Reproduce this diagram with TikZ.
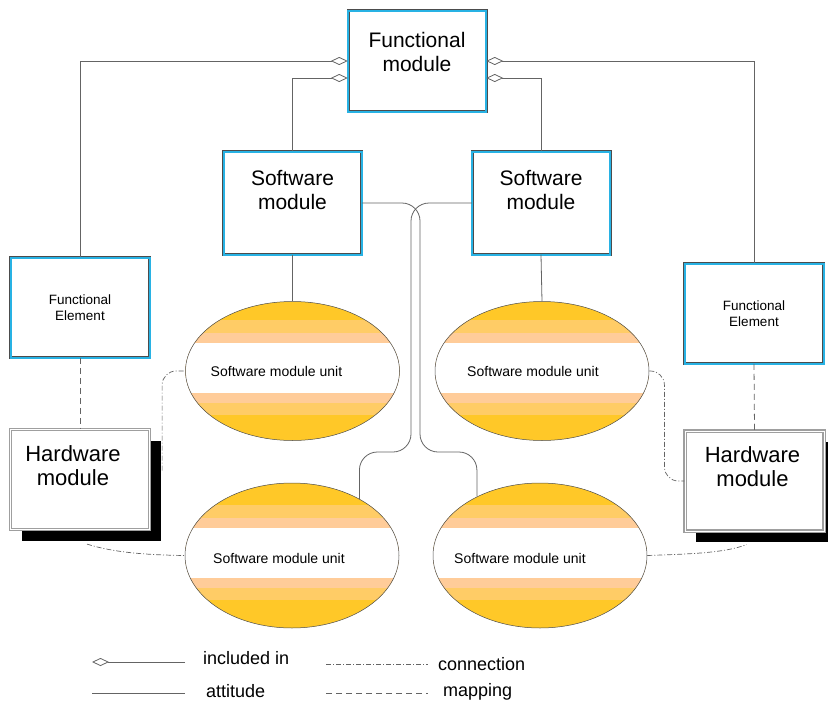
\documentclass[tikz,border=0pt]{standalone}
\usepackage{fontspec}
\setmainfont{Liberation Sans}
\usepackage{tikz}
\usetikzlibrary{positioning,arrows.meta,shapes.geometric,shadows}

\definecolor{frameblue}{RGB}{40,178,228}
\definecolor{linegray}{RGB}{100,100,100}
\definecolor{unitgold}{RGB}{255,200,40}
\definecolor{unitlight}{RGB}{255,204,102}
\definecolor{unitpeach}{RGB}{255,204,153}

\tikzset{
  modbox/.style={draw=gray!60!black, double=frameblue, double distance=2pt, line width=0.5pt,
    fill=white, minimum width=138pt, minimum height=101pt, inner sep=0pt},
  hwbox/.style={draw=gray!75, double=white, double distance=0.8pt, line width=1.2pt,
    fill=white, minimum width=139pt, minimum height=100pt, inner sep=0pt,
    drop shadow={shadow xshift=11pt, shadow yshift=-11pt, fill=black, opacity=1}},
  unit/.style={ellipse, draw=gray!60!black, line width=0.5pt, minimum width=214pt, inner sep=0pt,
    path picture={
      \begin{scope}[shift={(path picture bounding box.center)}]
        \fill[unitgold] (-120,-80) rectangle (120,80);
        \fill[unitlight] (-120,-51) rectangle (120,44);
        \fill[unitpeach] (-120,-38) rectangle (120,32);
        \fill[white] (-120,-28) rectangle (120,22);
      \end{scope}
    }},
  bigtext/.style={inner sep=0pt, align=center, font=\fontsize{21}{24}\selectfont},
  hwtext/.style={inner sep=0pt, align=center, font=\fontsize{22}{24}\selectfont},
  fetext/.style={align=center, font=\fontsize{13.5}{16}\selectfont},
  unittext/.style={inner sep=0pt, font=\fontsize{14}{16}\selectfont},
  keytext/.style={inner sep=0pt, anchor=west, font=\fontsize{18}{20}\selectfont},
  attit/.style={draw=linegray, line width=0.8pt},
  incl/.style={attit, -{Diamond[open, length=17pt, width=8pt]}},
  conn/.style={draw=linegray, line width=0.7pt, dash pattern=on 5pt off 2pt on 1pt off 2pt},
  mapp/.style={draw=linegray, line width=0.8pt, dash pattern=on 6pt off 4pt}
}

\begin{document}
\begin{tikzpicture}[x=1pt, y=-1pt]
\useasboundingbox (0,0) rectangle (828,704);

% Boxes
\node[modbox] (fm) at (417,61) {};
\node[bigtext, below=22pt of fm.north] (fmt) {Functional\\module};

\node[modbox, minimum height=103pt] (sm1) at (292.5,203) {};
\node[bigtext, below=19pt of sm1.north] (sm1t) {Software\\module};
\node[modbox, minimum height=103pt] (sm2) at (541,203) {};
\node[bigtext, below=19pt of sm2.north] (sm2t) {Software\\module};

\node[modbox, fetext, minimum width=139pt, minimum height=100pt] (fe1) at (80,307.5) {Functional\\Element};
\node[modbox, fetext, minimum width=139pt, minimum height=100pt] (fe2) at (754,313.5) {Functional\\Element};

\node[hwbox] (hw1) at (80,479.5) {};
\node[hwtext, below=16pt of hw1.north, xshift=-7pt] (hw1t) {Hardware\\module};
\node[hwbox] (hw2) at (754.5,481) {};
\node[hwtext, below=16pt of hw2.north, xshift=-2pt] (hw2t) {Hardware\\module};

% Units
\node[unit, minimum height=139pt] (u1) at (292.5,371) {};
\node[unittext] (u1t) at ([xshift=-16pt]u1.center) {Software module unit};
\node[unit, minimum height=139pt] (u2) at (542,371) {};
\node[unittext] (u2t) at ([xshift=-9pt]u2.center) {Software module unit};
\node[unit, minimum height=145pt] (u3) at (292,555.5) {};
\node[unittext] (u3t) at ([xshift=-13pt,yshift=-3pt]u3.center) {Software module unit};
\node[unit, minimum height=145pt] (u4) at (540,555.5) {};
\node[unittext] (u4t) at ([xshift=-20pt,yshift=-3pt]u4.center) {Software module unit};

% included in
\draw[incl] (fe1.north) |- (fm.west);
\draw[incl] (sm1.north) |- ([yshift=-17pt]fm.west);
\draw[incl] (fe2.north) |- (fm.east);
\draw[incl] (sm2.north) |- ([yshift=-17pt]fm.east);

% attitude
\draw[attit] (sm1.south) -- (u1.north);
\draw[attit] (sm2.south) -- (u2.north);
\draw[attit, rounded corners=18pt] (sm1.east) -| (420,452) -| (u4.137);
\draw[attit, rounded corners=18pt] (sm2.west) -| (411,452) -| (u3.40);

% connection
\draw[conn, rounded corners=14pt] ([shift={(12pt,9pt)}]hw1.east) |- (u1.west);
\draw[conn] ([shift={(7pt,-14pt)}]hw1.south) .. controls (115,553) and (150,555) .. (u3.west);
\draw[conn, rounded corners=14pt] (u2.east) -| ([xshift=-20pt]hw2.west) -- (hw2.west);
\draw[conn] (u4.east) .. controls (690,554) and (725,553) .. ([shift={(-8pt,-13pt)}]hw2.south);

% mapping
\draw[mapp] (fe1.south) -- (hw1.north);
\draw[mapp] (fe2.south) -- (hw2.north);

% Legend
\coordinate (k1a) at (92,662);
\coordinate (k1b) at (185,662);
\draw[incl] (k1b) -- (k1a);
\node[keytext] (k1t) at (203,658) {included in};
\coordinate (k2a) at (92,693);
\coordinate (k2b) at (185,693);
\draw[attit] (k2a) -- (k2b);
\node[keytext] (k2t) at (206,691) {attitude};
\coordinate (k3a) at (326,664);
\coordinate (k3b) at (428,664);
\draw[conn] (k3a) -- (k3b);
\node[keytext] (k3t) at (438,664) {connection};
\coordinate (k4a) at (326,693);
\coordinate (k4b) at (428,693);
\draw[mapp] (k4a) -- (k4b);
\node[keytext] (k4t) at (443,692) {mapping};
\end{tikzpicture}
\end{document}
